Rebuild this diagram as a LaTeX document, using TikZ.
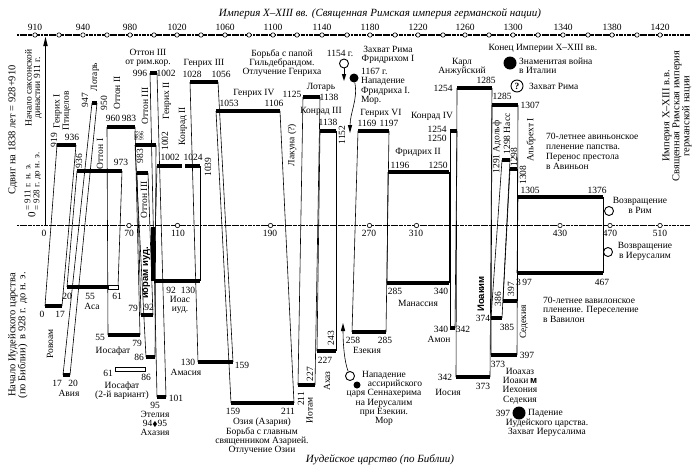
\documentclass[tikz,border=0pt]{standalone}
\usepackage{amssymb}
\usepackage{fontspec}
\setmainfont{Liberation Serif}
\setsansfont{Liberation Sans}
\newcommand{\lbl}{\fontsize{9.5}{9.3}\selectfont}
\newcommand{\capfont}{\fontsize{10.5}{10}\selectfont}
\newcommand{\hdfont}{\fontsize{11}{12}\selectfont\itshape}
\newcommand{\tinyfont}{\fontsize{6}{5}\selectfont}
\newcommand{\snfont}{\sffamily\bfseries\fontsize{9.5}{9.5}\selectfont}

\begin{document}
\begin{tikzpicture}[x=1pt,y=1pt,
    bar/.style={line width=4.2pt},
    link/.style={line width=0.6pt},
    axis/.style={line width=1.3pt,dash pattern=on 2.2pt off 0.45pt},
    dot/.style={fill=white,line width=0.6pt},
    hollow/.style={fill=white,line width=0.7pt},
    rot/.style={rotate=90},
    event/.style={circle,draw,line width=0.9pt,minimum size=9pt},
    blackevent/.style={circle,fill,minimum size=9pt}]
    \tikzstyle{every node}+=[inner sep=0pt,font=\lbl]
    \useasboundingbox (0,0) rectangle (700,-474);

    % two time axes
    \draw [axis] (17,-35) -- (690,-35);
    \draw [axis] (17,-225.5) -- (690,-225.5);
    \coordinate (s0) at (45.5,-225.5);
    \coordinate (s911) at (45.5,-45);
    \draw [line width=0.7pt] (s0) -- (s911);
    \fill [black] (45.5,-37) -- (43.2,-46) -- (47.8,-46);

    \draw [dot] (35,-35) circle (2.2);
    \draw [dot] (59,-35) circle (2.2);
    \draw [dot] (83,-35) circle (2.2);
    \draw [dot] (107,-35) circle (2.2);
    \draw [dot] (130,-35) circle (2.2);
    \draw [dot] (154,-35) circle (2.2);
    \draw [dot] (177,-35) circle (2.2);
    \draw [dot] (201,-35) circle (2.2);
    \draw [dot] (225,-35) circle (2.2);
    \draw [dot] (249,-35) circle (2.2);
    \draw [dot] (273,-35) circle (2.2);
    \draw [dot] (297,-35) circle (2.2);
    \draw [dot] (322,-35) circle (2.2);
    \draw [dot] (347,-35) circle (2.2);
    \draw [dot] (370,-35) circle (2.2);
    \draw [dot] (395,-35) circle (2.2);
    \draw [dot] (418,-35) circle (2.2);
    \draw [dot] (443,-35) circle (2.2);
    \draw [dot] (465,-35) circle (2.2);
    \draw [dot] (489,-35) circle (2.2);
    \draw [dot] (513,-35) circle (2.2);
    \draw [dot] (538,-35) circle (2.2);
    \draw [dot] (563,-35) circle (2.2);
    \draw [dot] (588,-35) circle (2.2);
    \draw [dot] (612,-35) circle (2.2);
    \draw [dot] (637,-35) circle (2.2);
    \draw [dot] (660,-35) circle (2.2);
    \draw (35,-27) node (t910) {910};
    \draw (83,-27) node (t940) {940};
    \draw (130,-27) node (t980) {980};
    \draw (177,-27) node (t1020) {1020};
    \draw (225,-27) node (t1060) {1060};
    \draw (273,-27) node (t1100) {1100};
    \draw (322,-27) node (t1140) {1140};
    \draw (370,-27) node (t1180) {1180};
    \draw (418,-27) node (t1220) {1220};
    \draw (465,-27) node (t1260) {1260};
    \draw (513,-27) node (t1300) {1300};
    \draw (563,-27) node (t1340) {1340};
    \draw (612,-27) node (t1380) {1380};
    \draw (660,-27) node (t1420) {1420};

    \draw [dot] (129,-225.5) circle (2.2);
    \draw [dot] (177.5,-225.5) circle (2.2);
    \draw [dot] (270.5,-225.5) circle (2.2);
    \draw [dot] (369.5,-225.5) circle (2.2);
    \draw [dot] (416.5,-225.5) circle (2.2);
    \draw [dot] (560,-225.5) circle (2.2);
    \draw [dot] (610,-225.5) circle (2.2);
    \draw [dot] (660,-225.5) circle (2.2);
    \draw (44,-233.5) node (b0) {0};
    \draw (129,-233.5) node (b70) {70};
    \draw (178,-233.5) node (b110) {110};
    \draw (270,-233.5) node (b190) {190};
    \draw (369,-233.5) node (b270) {270};
    \draw (416,-233.5) node (b310) {310};
    \draw (560,-233.5) node (b430) {430};
    \draw (610,-233.5) node (b470) {470};
    \draw (660,-233.5) node (b510) {510};

    % empire
    \coordinate (henI-l) at (57,-145);     \coordinate (henI-r) at (76,-145);
    \coordinate (lotI-l) at (92,-103);     \coordinate (lotI-r) at (97,-103);
    \coordinate (ottI-l) at (77,-171);     \coordinate (ottI-r) at (122,-171);
    \coordinate (ottII-l) at (107,-127);   \coordinate (ottII-r) at (135,-127);
    \coordinate (ottIIIa-l) at (135,-145); \coordinate (ottIIIa-r) at (156,-145);
    \coordinate (ottIIIb-l) at (137,-173); \coordinate (ottIIIb-r) at (148,-173);
    \coordinate (ottIIIr-l) at (150,-73);  \coordinate (ottIIIr-r) at (157,-73);
    \coordinate (henII-l) at (157,-166);   \coordinate (henII-r) at (182,-166);
    \coordinate (konII-l) at (185,-166);   \coordinate (konII-r) at (200,-166);
    \coordinate (henIII-l) at (190,-82);   \coordinate (henIII-r) at (218,-82);
    \coordinate (henIV-l) at (216,-111);   \coordinate (henIV-r) at (280,-111);
    \coordinate (lotII-l) at (303,-97);    \coordinate (lotII-r) at (320,-97);
    \coordinate (konIII-l) at (320,-131);  \coordinate (konIII-r) at (336,-131);
    \coordinate (henVI-l) at (358,-131);   \coordinate (henVI-r) at (389,-131);
    \coordinate (friII-l) at (388,-172);   \coordinate (friII-r) at (449,-172);
    \coordinate (konIV-l) at (450,-131);   \coordinate (konIV-r) at (457,-131);
    \coordinate (karl-l) at (457,-88);     \coordinate (karl-r) at (492,-88);
    \coordinate (e1285-l) at (492,-105);   \coordinate (e1285-r) at (518,-105);
    \coordinate (adolf-l) at (502,-160);   \coordinate (adolf-r) at (510,-160);
    \coordinate (e1298-l) at (510,-169);   \coordinate (e1298-r) at (517,-169);
    \coordinate (e1305-l) at (518,-197);   \coordinate (e1305-r) at (603,-197);

    % judah
    \coordinate (rov-l) at (45,-306);      \coordinate (rov-r) at (62,-306);
    \coordinate (avi-l) at (63,-375);      \coordinate (avi-r) at (70,-375);
    \coordinate (asa-l) at (67,-287);      \coordinate (asa-m) at (108,-287);
    \coordinate (asa-r) at (118,-287);
    \coordinate (iosaf-l) at (108,-335);   \coordinate (iosaf-r) at (140,-335);
    \coordinate (ioram-l) at (141,-315);   \coordinate (ioram-r) at (153,-315);
    \coordinate (ioramB-l) at (146,-357);  \coordinate (ioramB-r) at (155,-357);
    \coordinate (etel-l) at (157,-397);    \coordinate (etel-r) at (166,-397);
    \coordinate (ioas-l) at (154,-281);    \coordinate (ioas-r) at (200,-281);
    \coordinate (amas-l) at (198,-362);    \coordinate (amas-r) at (233,-362);
    \coordinate (ozia-l) at (231,-403);    \coordinate (ozia-r) at (294,-403);
    \coordinate (iotam-l) at (298,-385);   \coordinate (iotam-r) at (315,-385);
    \coordinate (ahaz-l) at (317,-351);    \coordinate (ahaz-r) at (336,-351);
    \coordinate (ezek-l) at (352,-332);    \coordinate (ezek-r) at (386,-332);
    \coordinate (manas-l) at (387,-283);   \coordinate (manas-r) at (449,-283);
    \coordinate (amon-l) at (450,-328);    \coordinate (amon-r) at (455,-328);
    \coordinate (iosia-l) at (456,-377);   \coordinate (iosia-r) at (490,-377);
    \coordinate (j373-l) at (491,-355);    \coordinate (j373-r) at (517,-355);
    \coordinate (ioakim-l) at (491,-318);  \coordinate (ioakim-r) at (502,-318);
    \coordinate (j386-l) at (503,-301);    \coordinate (j386-r) at (517,-301);
    \coordinate (j397-l) at (517,-273);    \coordinate (j397-r) at (603,-273);

    % parallels
    \draw [link] (henI-l) -- (rov-l);       \draw [link] (henI-r) -- (rov-r);
    \draw [link] (lotI-l) -- (avi-l);       \draw [link] (lotI-r) -- (avi-r);
    \draw [link] (ottI-l) -- (asa-l);       \draw [link] (ottI-r) -- (asa-r);
    \draw [link] (ottII-l) -- (iosaf-l);    \draw [link] (ottII-r) -- (iosaf-r);
    \draw [link] (ottIIIa-l) -- (ioramB-l); \draw [link] (ottIIIa-r) -- (ioramB-r);
    \draw [link] (ottIIIb-l) -- (ioram-l);  \draw [link] (ottIIIb-r) -- (ioram-r);
    \draw [link] (ottIIIr-l) -- (etel-l);   \draw [link] (ottIIIr-r) -- (etel-r);
    \draw [link] (henII-l) -- (ioas-l);     \draw [link] (konII-r) -- (ioas-r);
    \draw [link] (henIII-l) -- (amas-l);    \draw [link] (henIII-r) -- (amas-r);
    \draw [link] (henIV-l) -- (ozia-l);     \draw [link] (henIV-r) -- (ozia-r);
    \draw [link] (lotII-l) -- (iotam-l);    \draw [link] (lotII-r) -- (iotam-r);
    \draw [link] (konIII-l) -- (ahaz-l);    \draw [link] (konIII-r) -- (ahaz-r);
    \draw [link] (henVI-l) -- (ezek-l);     \draw [link] (henVI-r) -- (ezek-r);
    \draw [link] (friII-l) -- (manas-l);    \draw [link] (friII-r) -- (manas-r);
    \draw [link] (konIV-l) -- (amon-l);     \draw [link] (konIV-r) -- (amon-r);
    \draw [link] (karl-l) -- (iosia-l);     \draw [link] (karl-r) -- (iosia-r);
    \draw [link] (e1285-l) -- (j373-l);     \draw [link] (e1285-r) -- (j373-r);
    \draw [link] (adolf-l) -- (ioakim-l);   \draw [link] (adolf-r) -- (ioakim-r);
    \draw [link] (e1298-l) -- (j386-l);     \draw [link] (e1298-r) -- (j386-r);
    \draw [link] (e1305-l) -- (j397-l);     \draw [link] (e1305-r) -- (j397-r);
    \fill [black] (151,-227) rectangle (154.5,-281);

    % reigns
    \draw [bar] (henI-l) -- (henI-r);
    \draw [bar] (lotI-l) -- (lotI-r);
    \draw [bar] (ottI-l) -- (ottI-r);
    \draw [bar] (ottII-l) -- (ottII-r);
    \draw [bar] (ottIIIa-l) -- (ottIIIa-r);
    \draw [bar] (ottIIIb-l) -- (ottIIIb-r);
    \draw [bar] (ottIIIr-l) -- (ottIIIr-r);
    \draw [bar] (henII-l) -- (henII-r);
    \draw [bar] (konII-l) -- (konII-r);
    \draw [bar] (henIII-l) -- (henIII-r);
    \draw [bar] (henIV-l) -- (henIV-r);
    \draw [bar] (lotII-l) -- (lotII-r);
    \draw [bar] (konIII-l) -- (konIII-r);
    \draw [bar] (henVI-l) -- (henVI-r);
    \draw [bar] (friII-l) -- (friII-r);
    \draw [bar] (konIV-l) -- (konIV-r);
    \draw [bar] (karl-l) -- (karl-r);
    \draw [bar] (e1285-l) -- (e1285-r);
    \draw [bar] (adolf-l) -- (adolf-r);
    \draw [bar] (e1298-l) -- (e1298-r);
    \draw [bar] (e1305-l) -- (e1305-r);
    \draw [bar] (rov-l) -- (rov-r);
    \draw [bar] (avi-l) -- (avi-r);
    \draw [bar] (asa-l) -- (asa-m);
    \draw [hollow] (108,-285) rectangle (118,-289);
    \draw [bar] (iosaf-l) -- (iosaf-r);
    \draw [hollow] (115,-367) rectangle (145,-371);
    \draw [bar] (ioram-l) -- (ioram-r);
    \draw [bar] (ioramB-l) -- (ioramB-r);
    \draw [bar] (etel-l) -- (etel-r);
    \draw [bar] (ioas-l) -- (ioas-r);
    \draw [bar] (amas-l) -- (amas-r);
    \draw [bar] (ozia-l) -- (ozia-r);
    \draw [bar] (iotam-l) -- (iotam-r);
    \draw [bar] (ahaz-l) -- (ahaz-r);
    \draw [bar] (ezek-l) -- (ezek-r);
    \draw [bar] (manas-l) -- (manas-r);
    \draw [bar] (amon-l) -- (amon-r);
    \draw [bar] (iosia-l) -- (iosia-r);
    \draw [bar] (j373-l) -- (j373-r);
    \draw [bar] (ioakim-l) -- (ioakim-r);
    \draw [bar] (j386-l) -- (j386-r);
    \draw [bar] (j397-l) -- (j397-r);

    % titles and side notes
    \draw (380,-14) node [font=\hdfont] (title) {Империя X–XIII вв. (Священная Римская империя германской нации)};
    \draw (380,-460) node [font=\hdfont] (judah) {Иудейское царство (по Библии)};
    \draw (13,-130) node [rot,font=\capfont] (shift) {Сдвиг на 1838 лет = 928+910};
    \draw (33.5,-88) node [rot,align=center,font={\fontsize{9.5}{8.5}\selectfont}] (saxon) {Начало саксонской\\династии 911 г.};
    \draw (33,-185) node [rot,font={\fontsize{11}{9}\selectfont}] (zero) {0\,{\fontsize{9}{9}\selectfont\begin{tabular}{@{}l@{}}= 911 г. н. э.\\= 928 г. до н. э.\end{tabular}}};
    \draw (18,-335) node [rot,align=center,font={\fontsize{10.5}{10}\selectfont}] (jstart) {Начало Иудейского царства\\(по Библии)\enskip в 928 г. до н. э.};
    \draw (677,-116) node [rot,align=center,font={\fontsize{10.5}{10}\selectfont}] (emp) {Империя X–XIII в.в.\\Священная Римская империя\\германской нации};

    % empire labels
    \draw (54,-140) node [rot] (henI-a) {919};
    \draw (62,-111) node [rot,align=center] (henI-n) {Генрих I\\Птицелов};
    \draw (72,-137) node (henI-b) {936};
    \draw (85,-100) node [rot] (lotI-a) {947};
    \draw (95,-77) node [rot] (lotI-n) {Лотарь};
    \draw (104,-103) node [rot] (lotI-b) {950};
    \draw (79,-161) node [rot] (ottI-a) {936};
    \draw (100,-154) node [rot] (ottI-n) {Оттон I};
    \draw (121,-162) node (ottI-b) {973};
    \draw (117,-93) node [rot] (ottII-n) {Оттон II};
    \draw (113,-118) node (ottII-a) {960};
    \draw (129,-118) node (ottII-b) {983};
    \draw (148,-58) node [align=center] (ottIIIr-n) {Оттон III\\от рим.кор.};
    \draw (140,-73) node (ottIIIr-a) {996};
    \draw (166,-73) node (ottIIIr-b) {1002};
    \draw (145,-106) node [rot] (ottIIIa-n) {Оттон III};
    \draw (139,-136) node [rot,align=center,font=\tinyfont] (ottIIIa-a) {983\\996};
    \draw (140,-156) node [rot] (ottIIIb-a) {983};
    \draw (144,-200) node [rot] (ottIIIb-n) {Оттон III};
    \draw (167,-101) node [rot] (henII-n) {Генрих II};
    \draw (165,-141) node [rot] (henII-a) {1002};
    \draw (170,-157) node (henII-b) {1002};
    \draw (193,-157) node (konII-a) {1024};
    \draw (183,-126) node [rot] (konII-n) {Конрад II};
    \draw (208,-167) node [rot] (konII-b) {1039};
    \draw (204,-63) node (henIII-n) {Генрих III};
    \draw (192,-74) node (henIII-a) {1028};
    \draw (221,-74) node (henIII-b) {1056};
    \draw (254,-93) node (henIV-n) {Генрих IV};
    \draw (229,-103) node (henIV-a) {1053};
    \draw (274,-103) node (henIV-b) {1106};
    \draw (292,-145) node [rot] (gap-n) {Лакуна (?)};
    \draw (292,-94) node (lotII-a) {1125};
    \draw (321,-87) node (lotII-n) {Лотарь};
    \draw (329,-97) node (lotII-b) {1138};
    \draw (321,-111) node (konIII-n) {Конрад III};
    \draw (328,-122) node (konIII-a) {1138};
    \draw (342,-135) node [rot] (konIII-b) {1152};
    \draw (381,-113) node (henVI-n) {Генрих VI};
    \draw (367,-123) node (henVI-a) {1169};
    \draw (389,-123) node (henVI-b) {1197};
    \draw (418,-152) node (friII-n) {Фридрих II};
    \draw (400,-165) node (friII-a) {1196};
    \draw (438,-165) node (friII-b) {1250};
    \draw (432,-116) node (konIV-n) {Конрад IV};
    \draw (437,-129) node (konIV-a) {1254};
    \draw (437,-138) node (konIV-b) {1250};
    \draw (462,-67) node [align=center] (karl-n) {Карл\\Анжуйский};
    \draw (443,-88) node (karl-a) {1254};
    \draw (486,-80) node (karl-b) {1285};
    \draw (502,-96) node (e1285-a) {1285};
    \draw (530,-105) node (e1285-b) {1307};
    \draw (497,-147) node [rot] (adolf-n) {1291 Адольф};
    \draw (507,-134) node [rot] (nass-n) {1298 Насс};
    \draw (514,-157) node [rot] (e1298-a) {1298};
    \draw (523,-175) node [rot] (albr-a) {1308};
    \draw (531,-140) node [rot] (albr-n) {Альбрехт I};
    \draw (530,-190) node (e1305-a) {1305};
    \draw (597,-190) node (e1305-b) {1376};

    % empire events
    \draw (282,-63) node [align=center] (greg-n) {Борьба с папой\\Гильдебрандом.\\Отлучение Генриха};
    \draw (340,-53) node (c1154-n) {1154 г.};
    \draw (344,-63.5) node [event] (c1154) {};
    \coordinate (a1154) at (344,-76);
    \draw [link] (c1154) -- (a1154);
    \fill [black] (344,-81) -- (341.8,-74) -- (346.2,-74);
    \draw (388,-55) node [align=center] (fr-n) {Захват Рима\\Фридрихом I};
    \draw (354,-78) node [blackevent] (c1167) {};
    \draw (361,-68) node [anchor=north west,align=left] (c1167-n) {1167 г.\\Нападение\\Фридриха I.\\Мор.};
    \coordinate (a1167) at (350,-126);
    \draw [link] (c1167) .. controls (358,-100) and (350,-112) .. (a1167);
    \fill [black] (350,-133) -- (347.8,-125) -- (352.2,-125);
    \draw (543,-48) node (end-n) {Конец Империи X–XIII вв.};
    \draw (510,-63) node [blackevent,minimum size=13pt] (war) {};
    \draw (519,-65.5) node [anchor=west,align=left] (war-n) {Знаменитая война\\в Италии};
    \draw (517,-86) node [event,minimum size=12pt] (rome) {\textbf{?}};
    \draw (529,-86) node [anchor=west] (rome-n) {Захват Рима};
    \draw (546,-133) node [anchor=north west,align=left,font={\fontsize{9.5}{10}\selectfont}] (avig-n) {70-летнее авиньонское\\пленение папства.\\Перенос престола\\в Авиньон};
    \draw (609,-211) node [event] (ret1) {};
    \draw (640,-205.5) node [align=center] (ret1-n) {Возвращение\\в Рим};

    % judah labels
    \draw (42,-314) node (rov-a) {0};
    \draw (60,-314) node (rov-b) {17};
    \draw (50,-344) node [rot] (rov-n) {Ровоам};
    \draw (67,-296) node (asa-a) {20};
    \draw (90,-296) node (asa-b) {55};
    \draw (117,-296) node (asa-c) {61};
    \draw (92,-306) node (asa-n) {Аса};
    \draw (57,-383) node (avi-a) {17};
    \draw (73,-383) node (avi-b) {20};
    \draw (69,-393) node (avi-n) {Авия};
    \draw (100,-337) node (iosaf-a) {55};
    \draw (137,-343) node (iosaf-b) {79};
    \draw (113,-351) node (iosaf-n) {Иосафат};
    \draw (108,-373) node (iosafB-a) {61};
    \draw (146,-377) node (iosafB-b) {86};
    \draw (122,-391) node [align=center] (iosafB-n) {Иосафат\\(2-й вариант)};
    \draw (133,-308) node (ioram-a) {79};
    \draw (149,-307) node (ioram-b) {92};
    \draw (146.5,-273) node [rot,font=\snfont] (ioram-n) {иорам иуд.};
    \draw (139,-357) node (ioramB-a) {86};
    \draw (171,-290) node (ioas-a) {92};
    \draw (188,-290) node (ioas-b) {130};
    \draw (180,-305) node [align=center] (ioas-n) {Иоас\\иуд.};
    \draw (155,-405) node (etel-a) {95};
    \draw (176,-398) node (etel-b) {101};
    \draw (155,-423.5) node [align=center] (etel-n) {Этелия\\94{\scriptsize$\blacklozenge$}95\\Ахазия};
    \draw (188,-362) node (amas-a) {130};
    \draw (242,-365) node (amas-b) {159};
    \draw (186,-372) node (amas-n) {Амасия};
    \draw (233,-411) node (ozia-a) {159};
    \draw (288,-411) node (ozia-b) {211};
    \draw (262,-436.5) node [align=center] (ozia-n) {Озия (Азария)\\Борьба с главным\\священником Азарией.\\Отлучение Озии};
    \draw (301,-399) node [rot] (iotam-a) {211};
    \draw (310,-374) node [rot] (iotam-b) {227};
    \draw (309.5,-410) node [rot] (iotam-n) {Иотам};
    \draw (325,-360) node (ahaz-a) {227};
    \draw (331,-338) node [rot] (ahaz-b) {243};
    \draw (327,-381) node [rot] (ahaz-n) {Ахаз};
    \draw (353,-340) node (ezek-a) {258};
    \draw (385,-340) node (ezek-b) {285};
    \draw (367,-350) node (ezek-n) {Езекия};
    \draw (395,-291) node (manas-a) {285};
    \draw (441,-291) node (manas-b) {340};
    \draw (418,-303) node (manas-n) {Манассия};
    \draw (441,-329) node (amon-a) {340};
    \draw (463,-329) node (amon-b) {342};
    \draw (439,-339) node (amon-n) {Амон};
    \draw (445,-377) node (iosia-a) {342};
    \draw (483,-386) node (iosia-b) {373};
    \draw (448,-392) node (iosia-n) {Иосия};
    \draw (498,-364) node (j373-a) {373};
    \draw (527,-355) node (j373-b) {397};
    \draw (481,-294) node [rot,font=\snfont] (ioakim-n) {Иоаким};
    \draw (483,-318) node (ioakim-a) {374};
    \draw (507,-327) node (ioakim-b) {385};
    \draw (498,-299) node [rot] (j386-a) {386};
    \draw (511,-289) node [rot] (j386-b) {397};
    \draw (524,-322) node [rot] (sedek-n) {Седекия};
    \draw (524,-282) node (j397-a) {3\,97};
    \draw (602,-282) node (j397-b) {467};
    \draw (520,-386) node [align=center] (last-n) {Иоахаз\\Иоаки\,{\snfont м}\\Иехония\\Седекия};

    % judah events
    \draw (350,-376) node [event] (assyr) {};
    \draw (357,-385) node [blackevent,minimum size=7pt] (assyr-b) {};
    \draw (384,-398.5) node [align=center] (assyr-n) {Нападение\\\hspace*{22pt}ассирийского\\царя Сеннахерима\\на Иерусалим\\при Езекии.\\Мор};
    \coordinate (a-assyr) at (343,-330);
    \draw [link] (assyr) .. controls (344.5,-362) and (343,-345) .. (a-assyr);
    \fill [black] (343,-323) -- (340.8,-331) -- (345.2,-331);
    \draw (503,-413) node (fall-a) {397};
    \draw (519,-413) node [blackevent,minimum size=13pt] (fall) {};
    \draw (528,-413) node [anchor=west] (fall-n) {Падение};
    \draw (547,-428) node [align=center] (fall-m) {Иудейского царства.\\Захват Иерусалима};
    \draw (608,-252) node [event] (ret2) {};
    \draw (645,-251.5) node [align=center] (ret2-n) {Возвращение\\в Иерусалим};
    \draw (543,-297) node [anchor=north west,align=left] (babyl-n) {70-летнее вавилонское\\пленение. Переселение\\в Вавилон};
\end{tikzpicture}
\end{document}
